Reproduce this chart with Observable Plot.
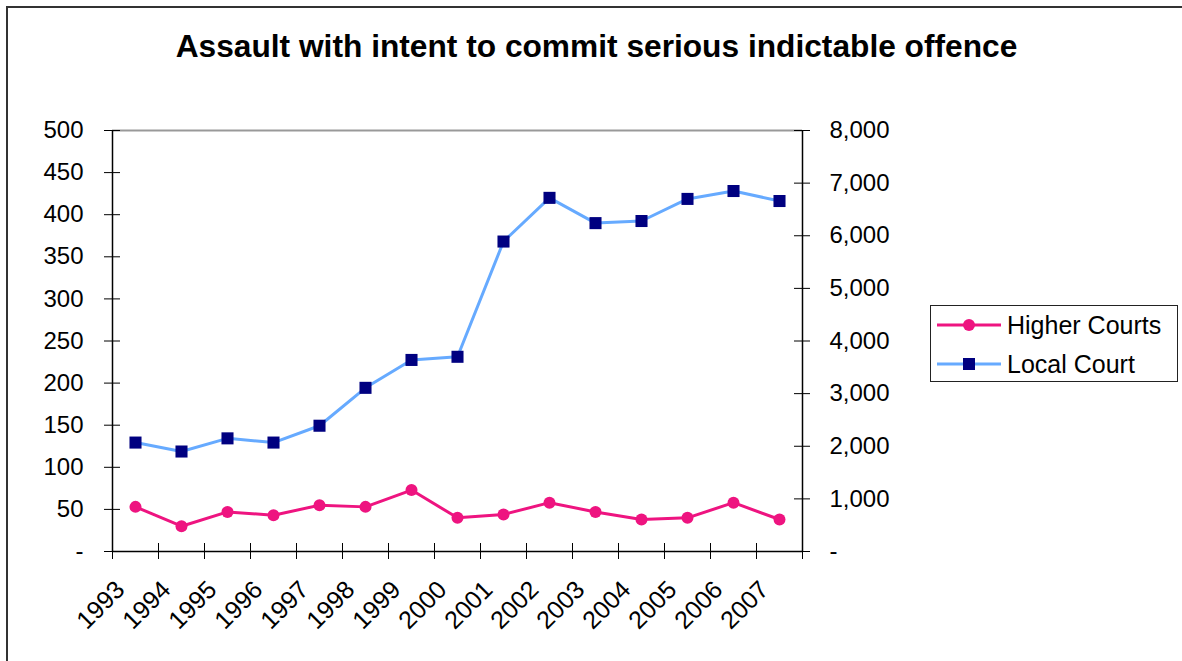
<!DOCTYPE html>
<html>
<head>
<meta charset="utf-8">
<script src="https://cdn.jsdelivr.net/npm/d3@7"></script>
<script src="https://cdn.jsdelivr.net/npm/@observablehq/plot@0.6"></script>
<style>
  html, body { margin: 0; padding: 0; background: #fff; }
  body { width: 1182px; height: 661px; overflow: hidden; position: relative; font-family: "Liberation Sans", Arial, sans-serif; }
  #frame { position: absolute; left: 6px; top: 6px; width: 1300px; height: 800px; border-left: 2px solid #333; border-top: 2px solid #333; }
  #title { position: absolute; left: 0; width: 1193px; top: 31px; text-align: center; font-weight: bold; font-size: 31.7px; line-height: 31px; color: #000; }
  #chart { position: absolute; left: 0; top: 100px; }
  #legend { position: absolute; left: 930px; top: 305px; width: 248px; height: 77px; box-sizing: border-box; border: 1px solid #222; background: #fff; }
  .row { position: absolute; left: 6px; height: 30px; display: flex; align-items: center; font-size: 25px; color: #000; }
  .row svg { margin-right: 6px; }
</style>
</head>
<body>
<div id="frame"></div>
<div id="title">Assault with intent to commit serious indictable offence</div>
<div id="chart"></div>
<div id="legend"></div>
<script>
const years = [1993, 1994, 1995, 1996, 1997, 1998, 1999, 2000, 2001, 2002, 2003, 2004, 2005, 2006, 2007];
const higherCourts = [53, 30, 47, 43, 55, 53, 73, 40, 44, 58, 47, 38, 40, 58, 38];
const localCourt = [2070, 1900, 2150, 2070, 2390, 3110, 3640, 3700, 5890, 6720, 6240, 6280, 6700, 6850, 6660];
const leftTicks = [0, 50, 100, 150, 200, 250, 300, 350, 400, 450, 500];
const rightTicks = [0, 1000, 2000, 3000, 4000, 5000, 6000, 7000, 8000];
const seriesNames = ["Higher Courts", "Local Court"];
const colors = { higher: "#EE1480", localLine: "#66AAFF", localMarker: "#000080" };

const ratio = 8000 / 500;
const higherData = years.map((y, i) => ({ year: y, value: higherCourts[i] }));
const localData = years.map((y, i) => ({ year: y, value: localCourt[i] / ratio }));
const boundaries = d3.range(years[0] - 0.5, years[years.length - 1] + 1, 1);
const xMin = years[0] - 0.5, xMax = years[years.length - 1] + 0.5;
const fmtLeft = d => d === 0 ? "-" : d3.format(",")(d);
const fmtRight = d => d === 0 ? "-" : d3.format(",")(Math.round(d * ratio));

const chart = Plot.plot({
  width: 1182,
  height: 561,
  marginTop: 30,
  marginBottom: 110,
  marginLeft: 112,
  marginRight: 380,
  style: { fontFamily: '"Liberation Sans", Arial, sans-serif', background: "transparent", overflow: "visible" },
  x: { type: "linear", domain: [xMin, xMax], axis: null },
  y: { domain: [0, 500], axis: null },
  marks: [
    Plot.ruleY([500], { stroke: "#999", strokeWidth: 2 }),
    Plot.ruleY([0], { stroke: "#000", strokeWidth: 1.5 }),
    Plot.ruleX([xMin], { stroke: "#000", strokeWidth: 1.5 }),
    Plot.ruleX([xMax], { stroke: "#000", strokeWidth: 1.5 }),
    Plot.ruleY(leftTicks, { x1: xMin, x2: xMin, insetLeft: -8, insetRight: -8, stroke: "#000", strokeWidth: 1 }),
    Plot.ruleY(rightTicks.map(v => v / ratio), { x1: xMax, x2: xMax, insetLeft: -8, insetRight: -8, stroke: "#000", strokeWidth: 1 }),
    Plot.ruleX(boundaries, { y1: 0, y2: 0, insetTop: -8, insetBottom: -8, stroke: "#000", strokeWidth: 1 }),
    Plot.axisY({ anchor: "left", ticks: leftTicks, tickFormat: fmtLeft, tickSize: 0, tickPadding: 29, fontSize: 24, label: null, color: "#000" }),
    Plot.axisY({ anchor: "right", ticks: rightTicks.map(v => v / ratio), tickFormat: fmtRight, tickSize: 0, tickPadding: 27, fontSize: 24, label: null, color: "#000" }),
    Plot.text(years, { x: d => d, y: 0, text: d => String(d), rotate: -45, textAnchor: "end", dx: -15, dy: 34, fontSize: 25, fill: "#000" }),
    Plot.line(localData, { x: "year", y: "value", stroke: colors.localLine, strokeWidth: 3 }),
    Plot.dot(localData, { x: "year", y: "value", symbol: "square", r: 6.8, fill: colors.localMarker, stroke: "none" }),
    Plot.line(higherData, { x: "year", y: "value", stroke: colors.higher, strokeWidth: 3 }),
    Plot.dot(higherData, { x: "year", y: "value", r: 6, fill: colors.higher, stroke: "none" })
  ]
});
document.getElementById("chart").appendChild(chart);

// Legend
const legend = document.getElementById("legend");
const items = [
  { name: seriesNames[0], line: colors.higher, marker: colors.higher, shape: "circle", top: 4 },
  { name: seriesNames[1], line: colors.localLine, marker: colors.localMarker, shape: "square", top: 43 }
];
items.forEach(it => {
  const row = document.createElement("div");
  row.className = "row";
  row.style.top = it.top + "px";
  const m = it.shape === "circle"
    ? `<circle cx="32" cy="10" r="6" fill="${it.marker}"/>`
    : `<rect x="26" y="4" width="12" height="12" fill="${it.marker}"/>`;
  row.innerHTML = `<svg width="64" height="20"><line x1="0" y1="10" x2="64" y2="10" stroke="${it.line}" stroke-width="3"/>${m}</svg><span>${it.name}</span>`;
  legend.appendChild(row);
});
</script>
</body>
</html>
